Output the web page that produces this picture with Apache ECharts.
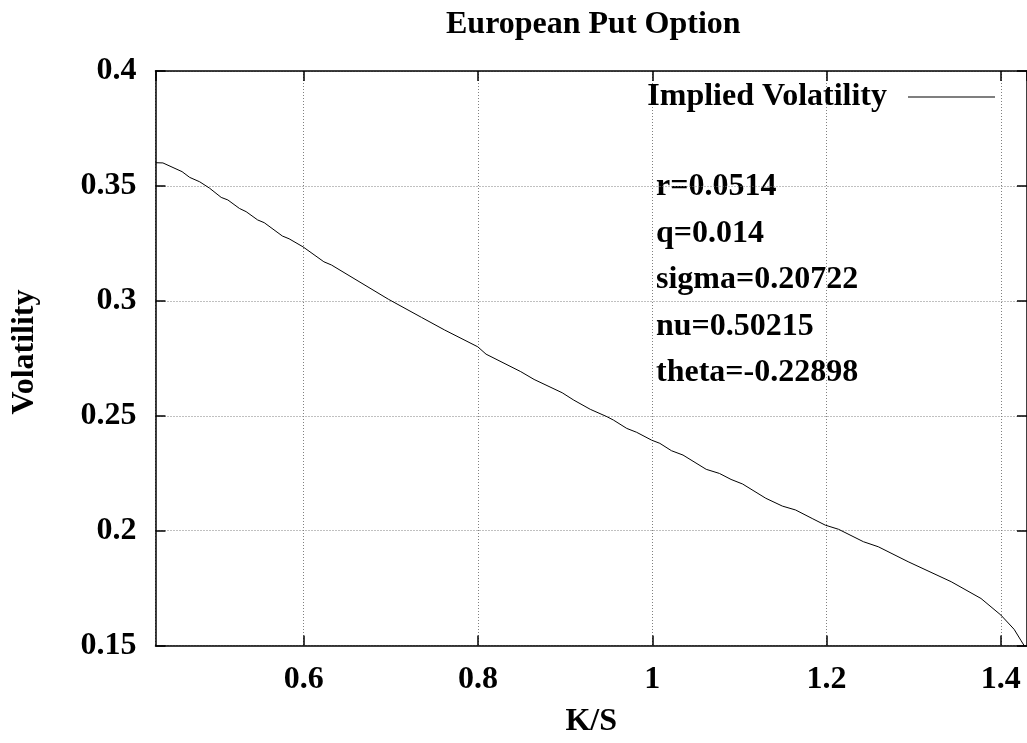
<!DOCTYPE html>
<html>
<head>
<meta charset="utf-8">
<script src="https://cdn.jsdelivr.net/npm/echarts@6/dist/echarts.min.js"></script>
<style>
html,body{margin:0;padding:0;background:#fff;}
#chart{width:1027px;height:743px;}
</style>
</head>
<body>
<div id="chart"></div>
<script>
// ---- data ----
const chartTitle = 'European Put Option';
const seriesName = 'Implied Volatility';
const xAxisName = 'K/S';
const yAxisName = 'Volatility';
const paramLabels = ['r=0.0514', 'q=0.014', 'sigma=0.20722', 'nu=0.50215', 'theta=-0.22898'];
const ksValues = [
  0.430, 0.4385, 0.4605, 0.4693, 0.4807, 0.4921, 0.5054, 0.5130, 0.5263, 0.5340,
  0.5472, 0.5548, 0.5756, 0.5833, 0.5992, 0.6232, 0.6319, 0.6972, 0.7352, 0.7618,
  0.7998, 0.8093, 0.8491, 0.8644, 0.8967, 0.9100, 0.9289, 0.9480, 0.9556, 0.9707,
  0.9821, 0.9992, 1.0087, 1.0220, 1.0353, 1.0619, 1.0771, 1.0904, 1.1037, 1.1303,
  1.1493, 1.1645, 1.1835, 1.1986, 1.2138, 1.2423, 1.2594, 1.2936, 1.3430, 1.3772,
  1.4000, 1.4152, 1.4228, 1.4300
];
const volValues = [
  0.3601, 0.3600, 0.3562, 0.3537, 0.3518, 0.3490, 0.3450, 0.3439, 0.3402, 0.3388,
  0.3352, 0.3340, 0.3282, 0.3270, 0.3235, 0.3170, 0.3156, 0.3007, 0.2928, 0.2873,
  0.2800, 0.2768, 0.2692, 0.2658, 0.2600, 0.2568, 0.2528, 0.2496, 0.2481, 0.2445,
  0.2428, 0.2394, 0.2380, 0.2348, 0.2329, 0.2267, 0.2249, 0.2223, 0.2203, 0.2141,
  0.2107, 0.2090, 0.2053, 0.2024, 0.2006, 0.1952, 0.1930, 0.1865, 0.1778, 0.1705,
  0.1633, 0.1571, 0.1524, 0.1480
];
const xMin = 0.43, xMax = 1.43;
const yMin = 0.15, yMax = 0.4, yStep = 0.05;

// ---- chart ----
const FONT = '"Liberation Serif", "Times New Roman", serif';
const FS = 32;
const seriesData = ksValues.map((k, i) => [k, volValues[i]]);

const gridLeft = 155.5, gridTop = 71, gridRight = -6, gridBottom = 97.4;
const borderStyle = {color: '#000', width: 1.5};
const gridLineStyle = {color: '#808080', width: 1, type: [1, 2]};

const chart = echarts.init(document.getElementById('chart'), null, {renderer: 'canvas'});

const paramGraphics = paramLabels.map((t, i) => ({
  type: 'text',
  x: 656,
  y: 187 + i * 46.5,
  style: {text: t, font: 'bold ' + FS + 'px ' + FONT, fill: '#000', textAlign: 'left', textVerticalAlign: 'middle'}
}));

chart.setOption({
  animation: false,
  backgroundColor: '#fff',
  title: {
    text: chartTitle,
    left: 446,
    top: 9,
    padding: 0,
    textStyle: {fontFamily: FONT, fontWeight: 'bold', fontSize: FS, color: '#000'}
  },
  legend: {
    data: [seriesName],
    right: 32,
    top: 81,
    padding: 0,
    align: 'right',
    icon: 'rect',
    itemWidth: 87,
    itemHeight: 1,
    formatter: n => n + '\u00a0\u00a0',
    itemStyle: {color: '#000'},
    textStyle: {fontFamily: FONT, fontWeight: 'bold', fontSize: FS, color: '#000'}
  },
  grid: {left: gridLeft, top: gridTop, right: gridRight, bottom: gridBottom, containLabel: false},
  xAxis: [{
    type: 'value',
    min: xMin, max: xMax,
    position: 'bottom',
    name: xAxisName,
    nameLocation: 'middle',
    nameGap: 60,
    nameTextStyle: {fontFamily: FONT, fontWeight: 'bold', fontSize: FS, color: '#000'},
    axisLine: {show: true, onZero: false, lineStyle: borderStyle},
    axisTick: {show: true, inside: true, length: 10, lineStyle: borderStyle},
    axisLabel: {show: true, margin: 18, showMinLabel: false, showMaxLabel: false,
      fontFamily: FONT, fontWeight: 'bold', fontSize: FS, color: '#000'},
    splitLine: {show: true, lineStyle: gridLineStyle}
  }, {
    type: 'value',
    min: xMin, max: xMax,
    position: 'top',
    axisLine: {show: true, onZero: false, lineStyle: borderStyle},
    axisTick: {show: true, inside: true, length: 10, lineStyle: borderStyle},
    axisLabel: {show: false},
    splitLine: {show: false}
  }],
  yAxis: [{
    type: 'value',
    min: yMin, max: yMax, interval: yStep,
    position: 'left',
    axisLine: {show: true, onZero: false, lineStyle: borderStyle},
    axisTick: {show: true, inside: true, length: 10, lineStyle: borderStyle},
    axisLabel: {show: true, margin: 19, fontFamily: FONT, fontWeight: 'bold', fontSize: FS, color: '#000'},
    splitLine: {show: true, lineStyle: gridLineStyle}
  }, {
    type: 'value',
    min: yMin, max: yMax, interval: yStep,
    position: 'right',
    axisLine: {show: true, onZero: false, lineStyle: borderStyle},
    axisTick: {show: true, inside: true, length: 10, lineStyle: borderStyle},
    axisLabel: {show: false},
    splitLine: {show: false}
  }],
  graphic: [{
    type: 'text',
    x: 25, y: 352,
    rotation: Math.PI / 2,
    style: {text: yAxisName, font: 'bold ' + FS + 'px ' + FONT, fill: '#000', textAlign: 'center', textVerticalAlign: 'middle'}
  }].concat(paramGraphics),
  series: [{
    name: seriesName,
    type: 'line',
    xAxisIndex: 0, yAxisIndex: 0,
    data: seriesData,
    showSymbol: false,
    symbol: 'none',
    smooth: false,
    clip: true,
    lineStyle: {color: '#000', width: 1},
    itemStyle: {color: '#000'}
  }]
});
</script>
</body>
</html>
